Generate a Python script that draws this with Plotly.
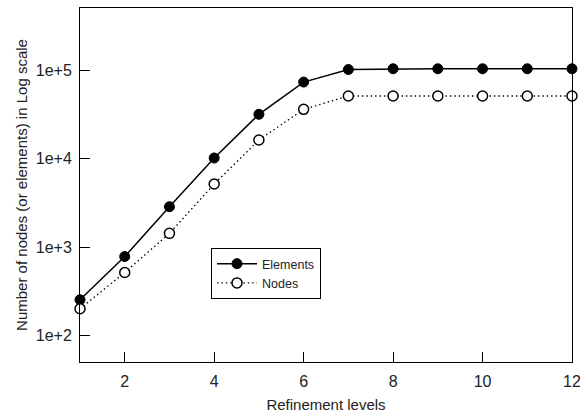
import plotly.graph_objects as go

levels = [1, 2, 3, 4, 5, 6, 7, 8, 9, 10, 11, 12]
elements = [255, 785, 2870, 10200, 31800, 73600, 102000, 104000, 104000, 104000, 104000, 104000]
nodes = [202, 518, 1435, 5180, 16300, 36200, 51200, 51200, 51200, 51200, 51200, 51200]

y_tickvals = [1e2, 1e3, 1e4, 1e5]
y_ticktext = ["1e+2", "1e+3", "1e+4", "1e+5"]
x_tickvals = [2, 4, 6, 8, 10, 12]

FONT = "Liberation Sans, Arial, sans-serif"
TXT = "#222"

fig = go.Figure()
fig.add_trace(go.Scatter(
    x=levels, y=elements, name="Elements", mode="lines+markers",
    line=dict(color="black", width=1.5, dash="solid"),
    marker=dict(symbol="circle", size=10, color="black", line=dict(color="black", width=1)),
    cliponaxis=False,
))
fig.add_trace(go.Scatter(
    x=levels, y=nodes, name="Nodes", mode="lines+markers",
    line=dict(color="black", width=1.4, dash="1.4px,3px"),
    marker=dict(symbol="circle", size=10, color="white", line=dict(color="black", width=1.5)),
    cliponaxis=False,
))

fig.update_layout(
    width=580, height=415,
    margin=dict(l=80, r=8, t=8, b=53),
    paper_bgcolor="white", plot_bgcolor="white",
    font=dict(family=FONT, size=15, color=TXT),
    showlegend=True,
    legend=dict(
        x=(211 - 80) / 492, y=(362 - 248) / 354, xanchor="left", yanchor="top",
        bordercolor="black", borderwidth=1, bgcolor="white",
        font=dict(size=12.5, family=FONT, color=TXT),
        itemwidth=40, tracegroupgap=0,
    ),
    xaxis=dict(
        range=[1, 12], tickvals=x_tickvals, ticks="inside", ticklen=10,
        tickcolor="black", linecolor="black", linewidth=1, mirror=True,
        showgrid=False, zeroline=False, showline=True, automargin=False,
        tickfont=dict(size=16, family=FONT, color=TXT),
        ticklabelstandoff=5, ticklabeloverflow="allow",
        title=dict(text="Refinement levels", font=dict(size=15, family=FONT, color=TXT), standoff=10),
    ),
    yaxis=dict(
        type="log", range=[1.703, 5.704], tickvals=y_tickvals, ticktext=y_ticktext,
        ticks="inside", ticklen=10, tickcolor="black", linecolor="black", linewidth=1,
        mirror=True, showgrid=False, zeroline=False, showline=True, automargin=False,
        tickfont=dict(size=16, family=FONT, color=TXT),
        ticklabelstandoff=4, ticklabeloverflow="allow",
        title=dict(text="Number of nodes (or elements) in Log scale",
                   font=dict(size=15, family=FONT, color=TXT), standoff=4),
    ),
)

fig.write_html("out.html")
